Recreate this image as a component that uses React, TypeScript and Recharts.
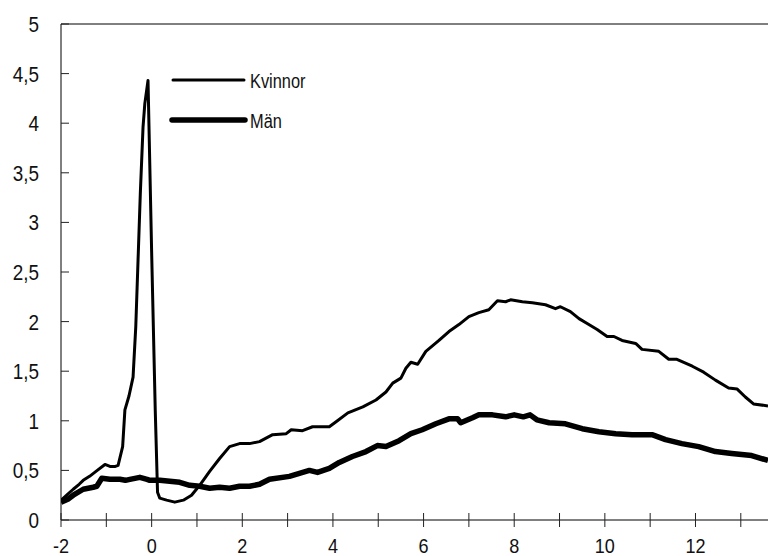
import React from "react";
import { LineChart, Line, XAxis, YAxis, ReferenceLine, Legend } from "recharts";

const kvinnorX = [-2.0, -1.85, -1.73, -1.6, -1.51, -1.37, -1.2, -1.03, -0.92, -0.8, -0.74, -0.64, -0.59, -0.5, -0.41, -0.35, -0.3, -0.25, -0.19, -0.15, -0.08, 0.0, 0.08, 0.13, 0.18, 0.33, 0.51, 0.7, 0.88, 1.06, 1.28, 1.5, 1.72, 1.94, 2.16, 2.38, 2.67, 2.97, 3.08, 3.33, 3.55, 3.92, 4.07, 4.33, 4.66, 4.95, 5.17, 5.32, 5.5, 5.61, 5.72, 5.87, 6.05, 6.34, 6.56, 6.78, 7.0, 7.22, 7.44, 7.63, 7.81, 7.92, 8.05, 8.18, 8.4, 8.69, 8.91, 9.02, 9.24, 9.43, 9.61, 9.83, 10.05, 10.2, 10.38, 10.68, 10.82, 11.19, 11.41, 11.59, 11.93, 12.18, 12.44, 12.73, 12.92, 13.1, 13.28, 13.6];
const kvinnorY = [0.2, 0.26, 0.31, 0.36, 0.4, 0.44, 0.5, 0.56, 0.54, 0.54, 0.55, 0.74, 1.11, 1.25, 1.44, 1.95, 2.62, 3.29, 3.96, 4.2, 4.43, 2.7, 1.1, 0.28, 0.22, 0.2, 0.18, 0.2, 0.25, 0.35, 0.49, 0.62, 0.74, 0.77, 0.77, 0.79, 0.86, 0.87, 0.91, 0.9, 0.94, 0.94, 0.99, 1.08, 1.14, 1.21, 1.29, 1.38, 1.43, 1.53, 1.59, 1.57, 1.7, 1.81, 1.9, 1.97, 2.05, 2.09, 2.12, 2.21, 2.2, 2.22, 2.21, 2.2, 2.19, 2.17, 2.13, 2.15, 2.1, 2.03, 1.98, 1.92, 1.85, 1.85, 1.81, 1.78, 1.72, 1.7, 1.62, 1.62, 1.55, 1.49, 1.41, 1.33, 1.32, 1.24, 1.17, 1.15];

const manX = [-2.0, -1.85, -1.73, -1.51, -1.29, -1.21, -1.1, -0.92, -0.7, -0.58, -0.48, -0.26, -0.1, -0.04, 0.18, 0.4, 0.62, 0.84, 1.06, 1.28, 1.5, 1.72, 1.94, 2.16, 2.38, 2.6, 3.04, 3.48, 3.66, 3.92, 4.14, 4.43, 4.73, 4.98, 5.17, 5.46, 5.72, 5.97, 6.27, 6.56, 6.75, 6.82, 7.08, 7.22, 7.52, 7.81, 8.0, 8.2, 8.35, 8.5, 8.77, 9.13, 9.5, 9.87, 10.24, 10.6, 11.04, 11.34, 11.7, 12.07, 12.44, 12.8, 13.24, 13.6];
const manY = [0.18, 0.21, 0.25, 0.31, 0.33, 0.34, 0.42, 0.41, 0.41, 0.4, 0.41, 0.43, 0.41, 0.4, 0.4, 0.39, 0.38, 0.35, 0.34, 0.32, 0.33, 0.32, 0.34, 0.34, 0.36, 0.41, 0.44, 0.5, 0.48, 0.52, 0.58, 0.64, 0.69, 0.75, 0.74, 0.8, 0.87, 0.91, 0.97, 1.02, 1.02, 0.98, 1.03, 1.06, 1.06, 1.04, 1.06, 1.04, 1.06, 1.01, 0.98, 0.97, 0.92, 0.89, 0.87, 0.86, 0.86, 0.81, 0.77, 0.74, 0.69, 0.67, 0.65, 0.6];

const xTicks = [-2, -1, 0, 1, 2, 3, 4, 5, 6, 7, 8, 9, 10, 11, 12, 13];
const xLabelTicks = [-2, 0, 2, 4, 6, 8, 10, 12];
const yTicks = [0, 0.5, 1, 1.5, 2, 2.5, 3, 3.5, 4, 4.5, 5];
const seriesNames = ["Kvinnor", "Män"];

const kvinnorData = kvinnorX.map((x, i) => ({ x, y: kvinnorY[i] }));
const manData = manX.map((x, i) => ({ x, y: manY[i] }));

const FONT = "'Liberation Sans', Arial, sans-serif";

const XTick = (props: any) => {
  const { x, y, payload } = props;
  const v = payload.value;
  return (
    <g>
      <line x1={x} x2={x} y1={y - 7} y2={y + 7} stroke="#222" strokeWidth={1} />
      {xLabelTicks.includes(v) && (
        <text
          transform={`translate(${x},${y + 33}) scale(0.86,1)`}
          textAnchor="middle"
          fontSize={21}
          fontFamily={FONT}
          fill="#111"
        >
          {String(v)}
        </text>
      )}
    </g>
  );
};

const YTick = (props: any) => {
  const { x, y, payload } = props;
  const v = payload.value;
  return (
    <g>
      <line x1={x} x2={x + 8} y1={y} y2={y} stroke="#222" strokeWidth={1} />
      <text
        transform={`translate(${x - 22},${y}) scale(0.86,1)`}
        dy="0.36em"
        textAnchor="end"
        fontSize={22}
        fontFamily={FONT}
        fill="#111"
      >
        {String(v).replace(".", ",")}
      </text>
    </g>
  );
};

const LegendContent = () => (
  <svg width={170} height={70} style={{ display: "block" }}>
    <line x1={6} x2={77} y1={15} y2={15} stroke="#000" strokeWidth={3} strokeLinecap="round" />
    <text transform="translate(83,15) scale(0.78,1)" dy="0.36em" fontSize={21} fontFamily={FONT} fill="#111">{seriesNames[0]}</text>
    <line x1={5} x2={78} y1={55} y2={55} stroke="#000" strokeWidth={5.5} strokeLinecap="round" />
    <text transform="translate(83,55) scale(0.78,1)" dy="0.36em" fontSize={21} fontFamily={FONT} fill="#111">{seriesNames[1]}</text>
  </svg>
);

export default function App() {
  return (
    <div style={{ position: "absolute", left: 0, top: 0, width: 768, height: 556, overflow: "hidden", background: "#fff" }}>
      <LineChart width={768} height={556} margin={{ top: 24, right: 0, bottom: 0, left: 0 }}>
        <XAxis
          type="number"
          dataKey="x"
          domain={[-2, 13.6]}
          ticks={xTicks}
          allowDataOverflow
          height={36}
          tickSize={0}
          tickMargin={0}
          tickLine={false}
          axisLine={{ stroke: "#000", strokeWidth: 1 }}
          tick={<XTick />}
          interval={0}
        />
        <YAxis
          type="number"
          domain={[0, 5]}
          ticks={yTicks}
          width={61}
          tickSize={0}
          tickMargin={0}
          tickLine={false}
          axisLine={{ stroke: "#000", strokeWidth: 1 }}
          tick={<YTick />}
          interval={0}
        />
        <ReferenceLine y={5} stroke="#000" strokeWidth={1} />
        <Legend
          layout="vertical"
          align="center"
          verticalAlign="middle"
          content={<LegendContent />}
          wrapperStyle={{ position: "absolute", left: 167, top: 65, width: 170, height: 70 }}
        />
        <Line
          data={kvinnorData}
          dataKey="y"
          name={seriesNames[0]}
          type="linear"
          stroke="#000"
          strokeWidth={3}
          dot={false}
          strokeLinejoin="round"
          isAnimationActive={false}
        />
        <Line
          data={manData}
          dataKey="y"
          name={seriesNames[1]}
          type="linear"
          stroke="#000"
          strokeWidth={5.5}
          dot={false}
          strokeLinejoin="round"
          isAnimationActive={false}
        />
      </LineChart>
    </div>
  );
}
